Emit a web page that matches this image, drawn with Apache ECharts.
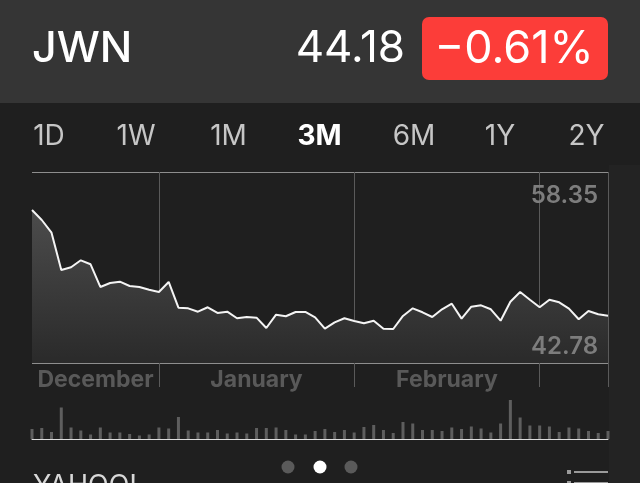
<!DOCTYPE html>
<html>
<head>
<meta charset="utf-8">
<script src="https://cdn.jsdelivr.net/npm/echarts@6/dist/echarts.min.js"></script>
<style>
html,body{margin:0;padding:0;background:#1f1f1f;}
#chart{width:640px;height:483px;}
</style>
</head>
<body>
<div id="chart"></div>
<script>
// ---- data ----
const ticker = 'JWN';
const lastPrice = '44.18';
const changePct = '\u22120.61%';
const periods = ['1D', '1W', '1M', '3M', '6M', '1Y', '2Y'];
const selectedPeriod = '3M';
const rangeLabels = ['58.35', '42.78'];
const monthNames = {'12': 'December', '01': 'January', '02': 'February', '03': 'March'};
const dates = [
  '2015-12-14','2015-12-15','2015-12-16','2015-12-17','2015-12-18','2015-12-21','2015-12-22','2015-12-23','2015-12-24','2015-12-28','2015-12-29','2015-12-30','2015-12-31',
  '2016-01-04','2016-01-05','2016-01-06','2016-01-07','2016-01-08','2016-01-11','2016-01-12','2016-01-13','2016-01-14','2016-01-15','2016-01-18','2016-01-19','2016-01-20','2016-01-21','2016-01-22','2016-01-25','2016-01-26','2016-01-27','2016-01-28','2016-01-29',
  '2016-02-01','2016-02-02','2016-02-03','2016-02-04','2016-02-05','2016-02-08','2016-02-09','2016-02-10','2016-02-11','2016-02-12','2016-02-16','2016-02-17','2016-02-18','2016-02-19','2016-02-22','2016-02-23','2016-02-24','2016-02-25','2016-02-26',
  '2016-03-01','2016-03-02','2016-03-03','2016-03-04','2016-03-07','2016-03-08','2016-03-09','2016-03-10'
];
const closes = [58.43,57.09,55.40,50.42,50.78,51.71,51.18,48.15,48.68,48.86,48.28,48.15,47.79,
  47.48,48.82,45.38,45.30,44.85,45.44,44.68,44.85,43.97,44.14,44.05,42.67,44.45,44.24,44.81,44.81,44.10,42.58,43.43,43.97,
  43.61,43.30,43.65,42.58,42.54,44.28,45.30,44.77,44.14,45.17,45.92,43.92,45.52,45.70,45.17,43.65,46.18,47.48,46.45,45.44,
  46.45,46.10,45.25,43.84,44.94,44.50,44.32];
const volumes = [2.0,2.2,1.4,6.3,2.3,1.7,0.9,2.3,1.3,1.3,1.0,0.7,0.9,
  2.3,2.1,4.4,1.7,1.3,1.3,1.8,1.1,1.3,1.1,2.2,2.2,2.3,1.8,0.9,0.9,1.6,2.0,1.4,1.8,
  1.3,2.4,2.8,1.8,1.2,3.4,3.1,1.8,1.8,1.6,2.3,2.0,2.5,2.1,1.3,3.1,7.8,4.3,2.7,
  2.7,2.5,1.4,2.3,2.1,1.6,1.2,1.6];

// ---- derived ----
const monthStarts = [];
dates.forEach((d, i) => { if (i === 0 || d.slice(5,7) !== dates[i-1].slice(5,7)) monthStarts.push(i); });
const boundaryIdx = monthStarts.slice(1).concat([dates.length - 1]);
const monthLabelPts = [];
monthStarts.forEach((s, k) => {
  const e = k + 1 < monthStarts.length ? monthStarts[k+1] : dates.length - 1;
  if (e - s >= 10) monthLabelPts.push({value: [(s + e) / 2, 0.5], name: monthNames[dates[s].slice(5,7)]});
});

const W = 640;
const tabX = [49, 136, 228.5, 319.5, 414, 500, 586.5];
const FONT = 'Inter, Roboto, sans-serif';

const graphics = [
  {type:'rect', shape:{x:0,y:0,width:W,height:103}, style:{fill:'#353535'}, z:-1},
  {type:'rect', shape:{x:609,y:165,width:31,height:318}, style:{fill:'#232323'}, z:-1},
  {type:'text', x:32, y:49, style:{text:ticker, fill:'#ffffff', font:'500 43px ' + FONT, verticalAlign:'middle'}},
  {type:'text', x:405, y:49, style:{text:lastPrice, fill:'#ffffff', font:'44px ' + FONT, align:'right', verticalAlign:'middle'}},
  {type:'rect', shape:{x:422,y:17,width:186,height:63,r:7}, style:{fill:'#fc3d39'}},
  {type:'text', x:514, y:49, style:{text:changePct, fill:'#ffffff', font:'45px ' + FONT, align:'center', verticalAlign:'middle'}},
  {type:'text', x:598, y:196, style:{text:rangeLabels[0], fill:'#7d7d7d', font:'600 24px ' + FONT, align:'right', verticalAlign:'middle'}, z:100},
  {type:'text', x:598, y:347, style:{text:rangeLabels[1], fill:'#7d7d7d', font:'600 24px ' + FONT, align:'right', verticalAlign:'middle'}, z:100},
  {type:'circle', shape:{cx:288,cy:467,r:6.5}, style:{fill:'#5a5a5a'}},
  {type:'circle', shape:{cx:320,cy:467,r:6.5}, style:{fill:'#ffffff'}},
  {type:'circle', shape:{cx:351,cy:467,r:6.5}, style:{fill:'#5a5a5a'}},
  {type:'text', x:33, y:472, style:{text:'YAHOO!', fill:'#d8d8d8', font:'27px ' + FONT, verticalAlign:'top'}},
  {type:'rect', shape:{x:567,y:470,width:4,height:4}, style:{fill:'#9a9a9a'}},
  {type:'rect', shape:{x:574,y:471,width:34,height:2}, style:{fill:'#9a9a9a'}},
  {type:'rect', shape:{x:567,y:481,width:4,height:4}, style:{fill:'#9a9a9a'}},
  {type:'rect', shape:{x:574,y:482,width:34,height:2}, style:{fill:'#9a9a9a'}}
];
periods.forEach((p, i) => {
  const sel = p === selectedPeriod;
  graphics.push({type:'text', x:tabX[i], y:137, style:{text:p, fill: sel ? '#ffffff' : '#c6c6c6',
    font:(sel ? '700 ' : '400 ') + '28px ' + FONT, align:'center', verticalAlign:'middle'}});
});

const chart = echarts.init(document.getElementById('chart'), null, {renderer:'canvas'});
chart.setOption({
  backgroundColor: 'transparent',
  animation: false,
  graphic: graphics,
  grid: [
    {left:32, width:576, top:172, height:191},
    {left:32, width:576, top:394, height:45},
    {left:32, width:576, top:363, height:24}
  ],
  xAxis: [
    {type:'category', gridIndex:0, data:dates, boundaryGap:false,
     axisLine:{show:false}, axisTick:{show:false}, axisLabel:{show:false},
     splitLine:{show:true, interval:(i) => boundaryIdx.includes(i), lineStyle:{color:'#5a5a5a', width:1}}},
    {type:'category', gridIndex:1, data:dates, boundaryGap:false,
     axisLine:{show:true, lineStyle:{color:'#dcdcdc', width:1}}, axisTick:{show:false}, axisLabel:{show:false}},
    {type:'category', gridIndex:2, data:dates, boundaryGap:false,
     axisLine:{show:false}, axisTick:{show:false}, axisLabel:{show:false},
     splitLine:{show:true, interval:(i) => boundaryIdx.includes(i), lineStyle:{color:'#5a5a5a', width:1}}},
    {type:'value', gridIndex:2, min:0, max:dates.length - 1, show:false}
  ],
  yAxis: [
    {type:'value', gridIndex:0, min:38, max:63.5, interval:25.5, axisLabel:{show:false},
     axisLine:{show:false}, axisTick:{show:false}, splitLine:{show:true, lineStyle:{color:'#8e8e8e', width:1}}},
    {type:'value', gridIndex:1, min:0, max:9, show:false, splitLine:{show:false}},
    {type:'value', gridIndex:2, min:0, max:1, show:false, splitLine:{show:false}}
  ],
  series: [
    {type:'line', xAxisIndex:0, yAxisIndex:0, data:closes, symbol:'none', smooth:false,
     lineStyle:{color:'#f4f4f4', width:2},
     areaStyle:{color:new echarts.graphic.LinearGradient(0,0,0,1,[{offset:0,color:'#4c4c4c'},{offset:1,color:'#2a2a2a'}]), opacity:1}},
    {type:'bar', xAxisIndex:1, yAxisIndex:1, data:volumes, barWidth:3, itemStyle:{color:'#5e5e5e'}},
    {type:'scatter', xAxisIndex:3, yAxisIndex:2, data:monthLabelPts, symbolSize:0.1, silent:true,
     label:{show:true, position:'inside', offset:[0,5], formatter:(p) => p.name, color:'#686868', fontFamily:FONT, fontWeight:'bold', fontSize:23}}
  ]
});
</script>
</body>
</html>
